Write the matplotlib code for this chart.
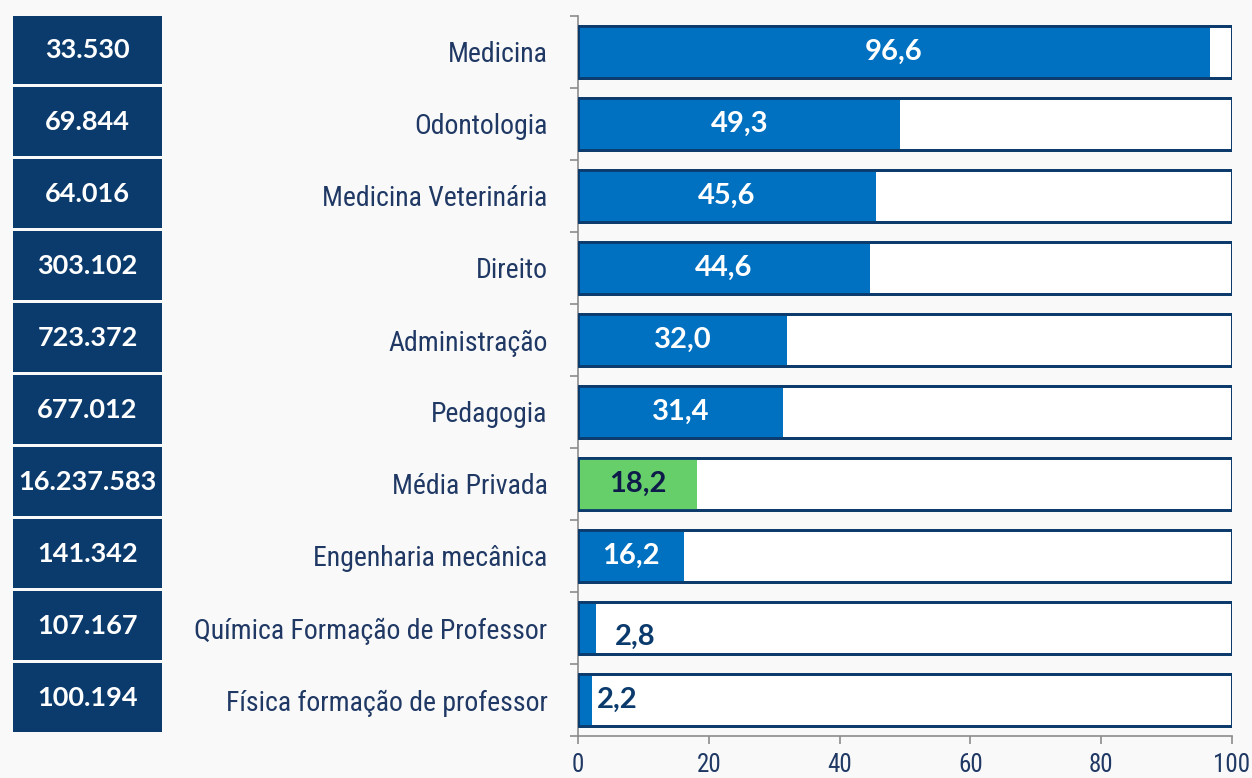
import numpy as np
import matplotlib
matplotlib.use('Agg')
import matplotlib.pyplot as plt
from matplotlib.ticker import FixedLocator


# Data.
cursos = ["Medicina", "Odontologia", "Medicina Veterinária", "Direito",
          "Administração", "Pedagogia", "Média Privada", "Engenharia mecânica",
          "Química Formação de Professor", "Física formação de professor"]
valores = [96.6, 49.3, 45.6, 44.6, 32.0, 31.4, 18.2, 16.2, 2.8, 2.2]
matriculas = ["33.530", "69.844", "64.016", "303.102", "723.372", "677.012",
              "16.237.583", "141.342", "107.167", "100.194"]
x_ticks = [0, 20, 40, 60, 80, 100]

navy = "#0b3a6c"
blue = "#0070c0"
green = "#66cf6a"
text_dark = "#1f3864"
grey = "#8c8c8c"

narrow = ["Liberation Sans Narrow", "Roboto Condensed", "DejaVu Sans"]
bold_font = ["Lato", "DejaVu Sans"]

fig = plt.figure(figsize=(12.52, 7.78), dpi=100)
fig.patch.set_facecolor("#f9f9f9")

bottom = 1 - 736 / 778
height = 720 / 778
ax = fig.add_axes([578 / 1252, bottom, 654 / 1252, height])
ax.set_facecolor("none")

n = len(cursos)
y = np.arange(n)

# background (100%) bars, then value bars
ax.barh(y, [100] * n, height=0.72, color="white", edgecolor=navy, linewidth=2, zorder=2)
colors = [green if c == "Média Privada" else blue for c in cursos]
ax.barh(y, valores, height=0.72, color=colors, edgecolor="none", zorder=3)
ax.barh(y, [100] * n, height=0.72, color="none", edgecolor=navy, linewidth=2, zorder=4)

for yi, v, c in zip(y, valores, cursos):
    lbl = f"{v:.1f}".replace(".", ",")
    if v < 10:
        # small bars: label sits to the right of the bar
        if v > 2.5:
            xpos, ypos = v + 2.9, yi + 0.12
        else:
            xpos, ypos = v + 0.7, yi
        ax.text(xpos, ypos, lbl, ha="left", va="center",
                fontsize=21, fontweight="bold", color=navy, family=bold_font, zorder=5)
    else:
        col = "#0d1a4a" if c == "Média Privada" else "white"
        ax.text(v / 2, yi, lbl, ha="center", va="center", fontsize=21,
                fontweight="bold", color=col, family=bold_font, zorder=5)

ax.set_xlim(0, 100)
ax.set_ylim(n - 0.5, -0.5)
ax.set_xticks(x_ticks)
ax.set_xticklabels([str(t) for t in x_ticks], fontsize=18, color=text_dark, family=narrow)
ax.set_yticks(y)
ax.set_yticklabels(cursos, fontsize=20, color=text_dark, family=narrow)
ax.yaxis.set_minor_locator(FixedLocator(np.arange(-0.5, n, 1)))
ax.tick_params(axis="y", which="major", length=0, pad=22)
ax.tick_params(axis="y", which="minor", length=6, color=grey, width=1.2)
ax.tick_params(axis="x", length=6, color=grey, width=1.2, pad=6)

for s in ["top", "right"]:
    ax.spines[s].set_visible(False)
ax.spines["left"].set_color(grey)
ax.spines["bottom"].set_color(grey)
ax.spines["left"].set_linewidth(1.2)
ax.spines["bottom"].set_linewidth(1.2)

# left column with the number of students
ax2 = fig.add_axes([13 / 1252, bottom, 149 / 1252, height])
ax2.barh(y - 0.03, [1] * n, height=0.96, color=navy, edgecolor="none")
for yi, m in zip(y, matriculas):
    ax2.text(0.5, yi - 0.03, m, ha="center", va="center", fontsize=19.5,
             fontweight="bold", color="white", family=bold_font)
ax2.set_xlim(0, 1)
ax2.set_ylim(n - 0.5, -0.5)
ax2.axis("off")

fig.savefig("out.png", dpi=100, facecolor=fig.get_facecolor())
